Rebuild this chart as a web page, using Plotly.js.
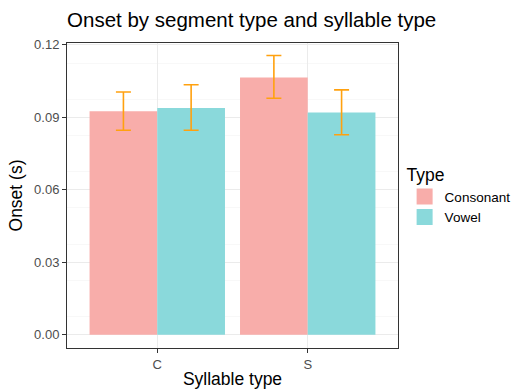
<!DOCTYPE html>
<html><head><meta charset="utf-8">
<script src="https://cdn.plot.ly/plotly-3.0.1.min.js"></script>
<style>body{margin:0;background:#fff}#chart{width:528px;height:392px}</style>
</head><body><div id="chart"></div>
<script>
const categories = ["C", "S"];
const seriesNames = ["Consonant", "Vowel"];
const consonantMean = [0.0925, 0.1065];
const consonantUpper = [0.1005, 0.1156];
const consonantLower = [0.0847, 0.0979];
const vowelMean = [0.0939, 0.0920];
const vowelUpper = [0.1035, 0.1014];
const vowelLower = [0.0847, 0.0828];
const yTicks = [0, 0.03, 0.06, 0.09, 0.12];
const yTickLabels = ["0.00", "0.03", "0.06", "0.09", "0.12"];

const colors = ["#F8ADAA", "#8AD9DB"];

function sub(a, b) { return a.map((v, i) => v - b[i]); }

const errStyle = {type: "data", symmetric: false, color: "#FFA10F", thickness: 1.6, width: 7.5};

const traces = [
  {type: "bar", name: seriesNames[0], x: categories, y: consonantMean, showlegend: false,
   marker: {color: colors[0]},
   error_y: Object.assign({array: sub(consonantUpper, consonantMean), arrayminus: sub(consonantMean, consonantLower)}, errStyle)},
  {type: "bar", name: seriesNames[1], x: categories, y: vowelMean, showlegend: false,
   marker: {color: colors[1]},
   error_y: Object.assign({array: sub(vowelUpper, vowelMean), arrayminus: sub(vowelMean, vowelLower)}, errStyle)},
  // legend keys (no data drawn)
  {type: "scatter", mode: "markers", name: seriesNames[0], x: [categories[0]], y: [null],
   marker: {symbol: "square", size: 22, color: colors[0]}, hoverinfo: "skip"},
  {type: "scatter", mode: "markers", name: seriesNames[1], x: [categories[0]], y: [null],
   marker: {symbol: "square", size: 22, color: colors[1]}, hoverinfo: "skip"}
];

const layout = {
  width: 528, height: 392,
  margin: {l: 67, r: 130, t: 43, b: 44},
  paper_bgcolor: "#fff", plot_bgcolor: "#fff",
  font: {family: "Liberation Sans, Arial, sans-serif", color: "#000"},
  title: {text: "Onset by segment type and syllable type", x: 0.127, xanchor: "left", y: 0.95, yanchor: "middle", font: {size: 20.5, color: "#000"}},
  barmode: "group", bargap: 0.1, bargroupgap: 0,
  xaxis: {
    type: "category", range: [-0.6, 1.6],
    showgrid: true, gridcolor: "#EBEBEB", gridwidth: 1,
    ticks: "outside", ticklen: 4, tickcolor: "#333", tickwidth: 1,
    tickfont: {size: 13, color: "#4D4D4D"},
    showline: true, linecolor: "#333", linewidth: 1, mirror: true, zeroline: false,
    title: {text: "Syllable type", font: {size: 17.5, color: "#000"}, standoff: 2}
  },
  yaxis: {
    range: [-0.0055, 0.1208],
    tickvals: yTicks, ticktext: yTickLabels,
    showgrid: true, gridcolor: "#EBEBEB", gridwidth: 1,
    minor: {dtick: 0.015, tick0: 0.0075, showgrid: true, gridcolor: "#F4F4F4", gridwidth: 0.6, ticks: ""},
    ticks: "outside", ticklen: 4, tickcolor: "#333", tickwidth: 1,
    tickfont: {size: 13, color: "#4D4D4D"},
    showline: true, linecolor: "#333", linewidth: 1, mirror: true, zeroline: false,
    title: {text: "Onset (s)", font: {size: 17.5, color: "#000"}, standoff: 6}
  },
  legend: {
    x: 1.02, xanchor: "left", y: 0.5, yanchor: "middle",
    title: {text: "Type", font: {size: 17.5, color: "#000"}},
    font: {size: 13.5, color: "#000"}, traceorder: "normal",
    itemwidth: 30, tracegroupgap: 2
  },
  showlegend: true
};

Plotly.newPlot("chart", traces, layout, {displayModeBar: false, staticPlot: true});
</script></body></html>
